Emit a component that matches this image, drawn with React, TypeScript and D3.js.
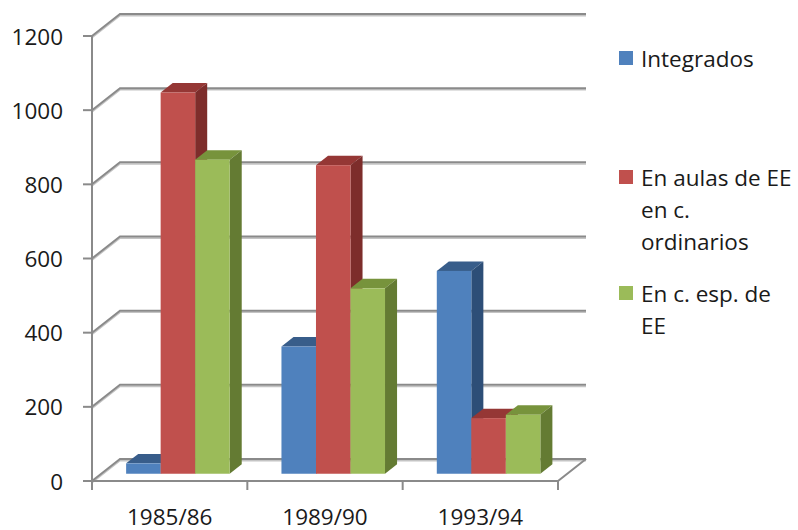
import React from 'react';
import * as d3 from 'd3';

// data
const categories = ['1985/86', '1989/90', '1993/94'];
const seriesNames = ['Integrados', 'En aulas de EE en c. ordinarios', 'En c. esp. de EE'];
const integrados = [28, 343, 547];
const aulasEE = [1028, 832, 150];
const centrosEsp = [847, 500, 159];
const yTicks = [0, 200, 400, 600, 800, 1000, 1200];
const legendLines = [['Integrados'], ['En aulas de EE', 'en c.', 'ordinarios'], ['En c. esp. de', 'EE']];

const faceColors = [
  { front: '#4F81BD', top: '#385D8A', side: '#2D4E77' },
  { front: '#C0504D', top: '#953735', side: '#7D2D2B' },
  { front: '#9BBB59', top: '#77933C', side: '#647B33' },
];

const W = 798;
const H = 530;
const DEPTH_X = 28;
const DEPTH_Y = 22;
const BAR_D0 = 0.33;
const BAR_D1 = 0.76;
const FONT = '"Open Sans", sans-serif';
const FS = 22.5;
const TXT = '#1A1A1A';

export default function App() {
  const values = [integrados, aulasEE, centrosEsp];

  const y = d3.scaleLinear().domain([0, 1200]).range([481, 36]);
  const x = d3.scaleBand<string>().domain(categories).range([92, 558]);
  const inner = d3
    .scaleBand<number>()
    .domain([0, 1, 2])
    .range([0, x.bandwidth()])
    .paddingInner(0)
    .paddingOuter(0.75);

  const x0 = x.range()[0];
  const x1 = x.range()[1];
  const grid = '#8A8A8A';

  const dx0 = BAR_D0 * DEPTH_X;
  const dy0 = BAR_D0 * DEPTH_Y;
  const ddx = (BAR_D1 - BAR_D0) * DEPTH_X;
  const ddy = (BAR_D1 - BAR_D0) * DEPTH_Y;
  const w = inner.bandwidth();

  const bars: JSX.Element[] = [];
  categories.forEach((c, ci) => {
    values.forEach((vals, si) => {
      const v = vals[ci];
      const bx = (x(c) as number) + (inner(si) as number) + dx0 - 1;
      const yt = y(v) - dy0;
      const yb = y(0) - dy0;
      const col = faceColors[si];
      const top = [
        [bx, yt],
        [bx + w, yt],
        [bx + w + ddx, yt - ddy],
        [bx + ddx, yt - ddy],
      ];
      const side = [
        [bx + w, yt],
        [bx + w + ddx, yt - ddy],
        [bx + w + ddx, yb - ddy],
        [bx + w, yb],
      ];
      bars.push(
        <g key={c + si}>
          <polygon points={top.map((p) => p.join(',')).join(' ')} fill={col.top} />
          <polygon points={side.map((p) => p.join(',')).join(' ')} fill={col.side} />
          <rect x={bx} y={yt} width={w} height={yb - yt} fill={col.front} />
        </g>
      );
    });
  });

  const legendY = [58, 177, 293];

  return (
    <svg width={W} height={H} style={{ position: 'absolute', left: 0, top: 0 }}>
      <rect width={W} height={H} fill="#ffffff" />
      {/* gridlines along side wall and back wall */}
      {yTicks.map((t) => {
        const yy = y(t);
        const d = `M${x0},${yy} L${x0 + DEPTH_X},${yy - DEPTH_Y} L${x1 + DEPTH_X},${yy - DEPTH_Y}`;
        return (
          <g key={'g' + t}>
            <path d={d} transform="translate(0,1.6)" fill="none" stroke="#C4C4C4" strokeWidth={1.6} />
            <path d={d} fill="none" stroke={grid} strokeWidth={2} />
          </g>
        );
      })}
      {/* floor front edge */}
      <path
        d={`M${x0},${y(0)} L${x1},${y(0)} L${x1 + DEPTH_X},${y(0) - DEPTH_Y}`}
        fill="none"
        stroke={grid}
        strokeWidth={2}
      />
      {/* value axis */}
      <line x1={x0} x2={x0} y1={y(1200)} y2={y(0)} stroke={grid} strokeWidth={2} />
      {yTicks.map((t) => (
        <g key={'t' + t}>
          <line x1={x0 - 9} x2={x0} y1={y(t)} y2={y(t)} stroke={grid} strokeWidth={2} />
          <text
            x={63}
            y={y(t)}
            textAnchor="end"
            dominantBaseline="central"
            fontFamily={FONT}
            fontSize={FS}
            fill={TXT}
          >
            {t}
          </text>
        </g>
      ))}
      {/* category ticks */}
      {[...categories.map((c) => x(c) as number), x1].map((xx, i) => (
        <line key={'c' + i} x1={xx} x2={xx} y1={y(0)} y2={y(0) + 9} stroke={grid} strokeWidth={2} />
      ))}
      {categories.map((c) => (
        <text
          key={'l' + c}
          x={(x(c) as number) + x.bandwidth() / 2}
          y={516}
          textAnchor="middle"
          dominantBaseline="central"
          fontFamily={FONT}
          fontSize={FS}
          fill={TXT}
        >
          {c}
        </text>
      ))}
      {bars}
      {/* legend */}
      {seriesNames.map((s, i) => (
        <g key={'lg' + i}>
          <rect x={619} y={legendY[i] - 7} width={14} height={14} fill={faceColors[i].front} />
          {legendLines[i].map((line, li) => (
            <text
              key={li}
              x={641}
              y={legendY[i] + li * 32}
              dominantBaseline="central"
              fontFamily={FONT}
              fontSize={FS}
              fill={TXT}
            >
              {line}
            </text>
          ))}
        </g>
      ))}
    </svg>
  );
}
